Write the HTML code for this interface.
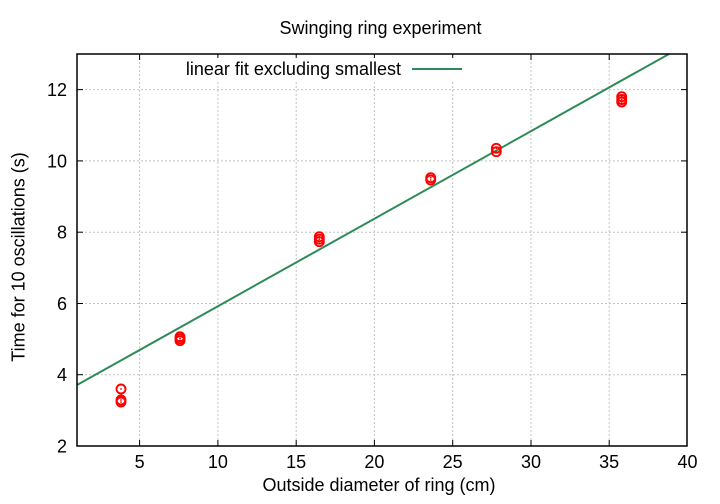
<!DOCTYPE html>
<html>
<head>
<meta charset="utf-8">
<style>
html,body{margin:0;padding:0;background:#fff;}
svg{display:block;}
text{font-family:"Liberation Sans",Arial,sans-serif;fill:#000;}
</style>
</head>
<body>
<svg width="720" height="504" viewBox="0 0 720 504" xmlns="http://www.w3.org/2000/svg">
<rect width="720" height="504" fill="#fff"/>
<!-- grid -->
<g stroke="#c4c4c4" stroke-width="1" stroke-dasharray="2,2" fill="none">
<line x1="139.6" y1="54" x2="139.6" y2="446"/>
<line x1="217.9" y1="54" x2="217.9" y2="446"/>
<line x1="296.2" y1="54" x2="296.2" y2="446"/>
<line x1="374.4" y1="54" x2="374.4" y2="446"/>
<line x1="452.7" y1="54" x2="452.7" y2="446"/>
<line x1="531" y1="54" x2="531" y2="446"/>
<line x1="609.2" y1="54" x2="609.2" y2="446"/>
<line x1="77" y1="374.7" x2="687" y2="374.7"/>
<line x1="77" y1="303.5" x2="687" y2="303.5"/>
<line x1="77" y1="232.2" x2="687" y2="232.2"/>
<line x1="77" y1="160.9" x2="687" y2="160.9"/>
<line x1="77" y1="89.6" x2="687" y2="89.6"/>
</g>
<!-- ticks -->
<g stroke="#000" stroke-width="1">
<line x1="139.6" y1="446" x2="139.6" y2="440"/><line x1="139.6" y1="54" x2="139.6" y2="60"/>
<line x1="217.9" y1="446" x2="217.9" y2="440"/><line x1="217.9" y1="54" x2="217.9" y2="60"/>
<line x1="296.2" y1="446" x2="296.2" y2="440"/><line x1="296.2" y1="54" x2="296.2" y2="60"/>
<line x1="374.4" y1="446" x2="374.4" y2="440"/><line x1="374.4" y1="54" x2="374.4" y2="60"/>
<line x1="452.7" y1="446" x2="452.7" y2="440"/><line x1="452.7" y1="54" x2="452.7" y2="60"/>
<line x1="531" y1="446" x2="531" y2="440"/><line x1="531" y1="54" x2="531" y2="60"/>
<line x1="609.2" y1="446" x2="609.2" y2="440"/><line x1="609.2" y1="54" x2="609.2" y2="60"/>
<line x1="77" y1="374.7" x2="83" y2="374.7"/><line x1="687" y1="374.7" x2="681" y2="374.7"/>
<line x1="77" y1="303.5" x2="83" y2="303.5"/><line x1="687" y1="303.5" x2="681" y2="303.5"/>
<line x1="77" y1="232.2" x2="83" y2="232.2"/><line x1="687" y1="232.2" x2="681" y2="232.2"/>
<line x1="77" y1="160.9" x2="83" y2="160.9"/><line x1="687" y1="160.9" x2="681" y2="160.9"/>
<line x1="77" y1="89.6" x2="83" y2="89.6"/><line x1="687" y1="89.6" x2="681" y2="89.6"/>
</g>
<!-- fit line -->
<line x1="77" y1="385" x2="669" y2="54" stroke="#2e8b57" stroke-width="2"/>
<!-- data points -->
<g stroke="#ff0000" stroke-width="1.9" fill="none">
<circle cx="121" cy="389" r="4.5"/>
<circle cx="121" cy="400" r="4.5"/>
<circle cx="121" cy="402" r="4.5"/>
<circle cx="180" cy="336.7" r="4.5"/>
<circle cx="180" cy="338.7" r="4.5"/>
<circle cx="180" cy="340.7" r="4.5"/>
<circle cx="319.3" cy="236.7" r="4.5"/>
<circle cx="319.3" cy="239.2" r="4.5"/>
<circle cx="319.3" cy="241.7" r="4.5"/>
<circle cx="430.7" cy="177.7" r="4.5"/>
<circle cx="430.7" cy="180" r="4.5"/>
<circle cx="496.3" cy="148.3" r="4.5"/>
<circle cx="496.3" cy="151.7" r="4.5"/>
<circle cx="621.7" cy="96.7" r="4.5"/>
<circle cx="621.7" cy="99.5" r="4.5"/>
<circle cx="621.7" cy="102" r="4.5"/>
</g>
<g fill="#ff0000">
<circle cx="121" cy="389" r="0.9"/><circle cx="121" cy="400" r="0.9"/><circle cx="121" cy="402" r="0.9"/>
<circle cx="180" cy="336.7" r="0.9"/><circle cx="180" cy="338.7" r="0.9"/><circle cx="180" cy="340.7" r="0.9"/>
<circle cx="319.3" cy="236.7" r="0.9"/><circle cx="319.3" cy="239.2" r="0.9"/><circle cx="319.3" cy="241.7" r="0.9"/>
<circle cx="430.7" cy="177.7" r="0.9"/><circle cx="430.7" cy="180" r="0.9"/>
<circle cx="496.3" cy="148.3" r="0.9"/><circle cx="496.3" cy="151.7" r="0.9"/>
<circle cx="621.7" cy="96.7" r="0.9"/><circle cx="621.7" cy="99.5" r="0.9"/><circle cx="621.7" cy="102" r="0.9"/>
</g>
<!-- frame -->
<rect x="77" y="54" width="610" height="392" fill="none" stroke="#000" stroke-width="1.5"/>
<!-- legend -->
<rect x="180" y="58" width="290" height="22" fill="#fff"/>
<text x="401" y="75" font-size="18" text-anchor="end">linear fit excluding smallest</text>
<line x1="412" y1="69" x2="462" y2="69" stroke="#2e8b57" stroke-width="2"/>
<!-- tick labels -->
<g font-size="18" text-anchor="middle">
<text x="139.6" y="468">5</text>
<text x="217.9" y="468">10</text>
<text x="296.2" y="468">15</text>
<text x="374.4" y="468">20</text>
<text x="452.7" y="468">25</text>
<text x="531" y="468">30</text>
<text x="609.2" y="468">35</text>
<text x="687.5" y="468">40</text>
</g>
<g font-size="18" text-anchor="end">
<text x="67" y="452.5">2</text>
<text x="67" y="381.2">4</text>
<text x="67" y="310">6</text>
<text x="67" y="238.7">8</text>
<text x="67" y="167.4">10</text>
<text x="67" y="96.1">12</text>
</g>
<!-- titles -->
<text x="380.5" y="34" font-size="18" text-anchor="middle">Swinging ring experiment</text>
<text x="379" y="491" font-size="18" text-anchor="middle">Outside diameter of ring (cm)</text>
<text transform="translate(24.5,257) rotate(-90)" font-size="18" text-anchor="middle">Time for 10 oscillations (s)</text>
</svg>
</body>
</html>
